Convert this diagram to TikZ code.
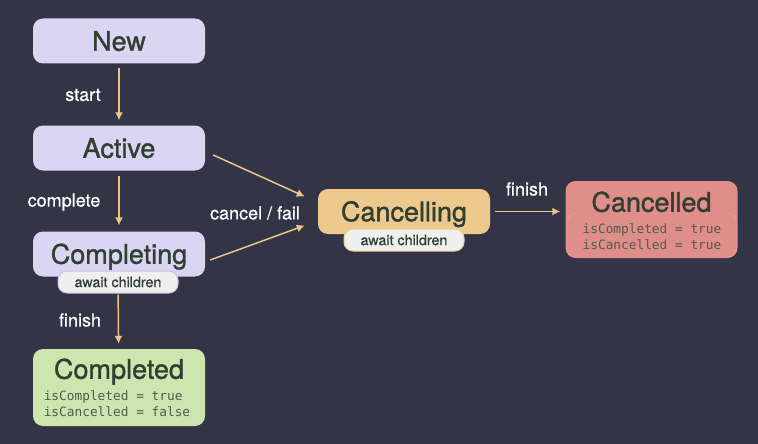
\documentclass[tikz,border=0pt]{standalone}
\usepackage{fontspec}
\setmainfont{TeX Gyre Heros}
\setmonofont{DejaVu Sans Mono}
\usetikzlibrary{arrows.meta}

\definecolor{bgnavy}{HTML}{333547}
\definecolor{lavender}{HTML}{D9D5F3}
\definecolor{inkgreen}{HTML}{313E32}
\definecolor{arrowgold}{HTML}{E9C48C}
\definecolor{cancelorange}{HTML}{EDC98E}
\definecolor{cancelred}{HTML}{E08E89}
\definecolor{donegreen}{HTML}{CDE6B0}
\definecolor{pillgray}{HTML}{EFEFEF}

\begin{document}
\begin{tikzpicture}[x=1pt, y=-1pt,
  state/.style={rounded corners=10pt, minimum width=172pt, minimum height=45pt,
    inner sep=0pt, text height=19.5pt, text depth=0pt, text=inkgreen,
    font=\fontsize{27}{29}\selectfont\addfontfeature{FakeBold=1.2}},
  pill/.style={rounded corners=9pt, minimum width=120pt, minimum height=22pt,
    inner sep=0pt, fill=pillgray, line width=1pt, text=inkgreen,
    font=\fontsize{14.3}{16}\selectfont\addfontfeature{FakeBold=0.6}},
  title/.style={inner sep=0pt, text height=19.5pt, text depth=0pt, text=inkgreen,
    font=\fontsize{27}{29}\selectfont\addfontfeature{FakeBold=1.2}},
  info/.style={text=inkgreen!85!white, align=left, font=\ttfamily\fontsize{12.8}{16}\selectfont},
  edgelabel/.style={text=white, font=\fontsize{18}{20}\selectfont\addfontfeature{FakeBold=0.6}},
  trans/.style={draw=arrowgold, line width=1.5pt, -{Latex[length=8pt, width=8pt]}}]
\useasboundingbox (0,0) rectangle (758,444);
\fill[bgnavy] (0,0) rectangle (758,444);
% left column
\node[state, fill=lavender] (new) at (119,41) {New};
\node[state, fill=lavender] (active) at (119,148) {Active};
\node[state, fill=lavender] (completing) at (119,254) {Completing};
\node[pill, draw=lavender!80!gray] (completingwait) at (118,282) {await children};
\node[state, fill=donegreen, minimum height=77pt] (completed) at (119,387.5) {};
\node[title] (completedtitle) at (119,369) {Completed};
\node[info] (completedinfo) at (117,403.5) {isCompleted = true\\isCancelled = false};
% right side
\node[state, fill=cancelorange] (cancelling) at (404,211.5) {Cancelling};
\node[pill, draw=cancelorange] (cancellingwait) at (404,240) {await children};
\node[state, fill=cancelred, minimum height=77pt] (cancelled) at (651.5,219.5) {};
\node[draw=cancelred!80!white, rounded corners=9pt, minimum width=169pt,
  minimum height=44pt] (cancelledbox) at (652,235) {};
\node[title] (cancelledtitle) at (651.5,202) {Cancelled};
\node[info] (cancelledinfo) at (652,236.5) {isCompleted = true\\isCancelled = true};
% transitions
\draw[trans, shorten <=4pt, shorten >=5pt] (new) -- (active);
\draw[trans, shorten <=5pt, shorten >=6pt] (active) -- (completing);
\draw[trans, shorten <=1pt, shorten >=5pt] (completingwait) -- (completed);
\draw[trans] ([xshift=8pt, yshift=-7pt]active.east) -- ([xshift=-13pt, yshift=15pt]cancelling.west);
\draw[trans] ([xshift=5pt, yshift=-6pt]completing.east) -- ([xshift=-13pt, yshift=-14pt]cancelling.west);
\draw[trans, shorten <=5pt, shorten >=5pt] (cancelling.east) -- (cancelling.east -| cancelled.west);
% labels
\node[edgelabel] (startlabel) at (83,95) {start};
\node[edgelabel] (completelabel) at (64,202) {complete};
\node[edgelabel] (finishlabel) at (80,320) {finish};
\node[edgelabel] (cancellabel) at (255,213) {cancel / fail};
\node[edgelabel] (finishcancellabel) at (527,189) {finish};
\end{tikzpicture}
\end{document}
